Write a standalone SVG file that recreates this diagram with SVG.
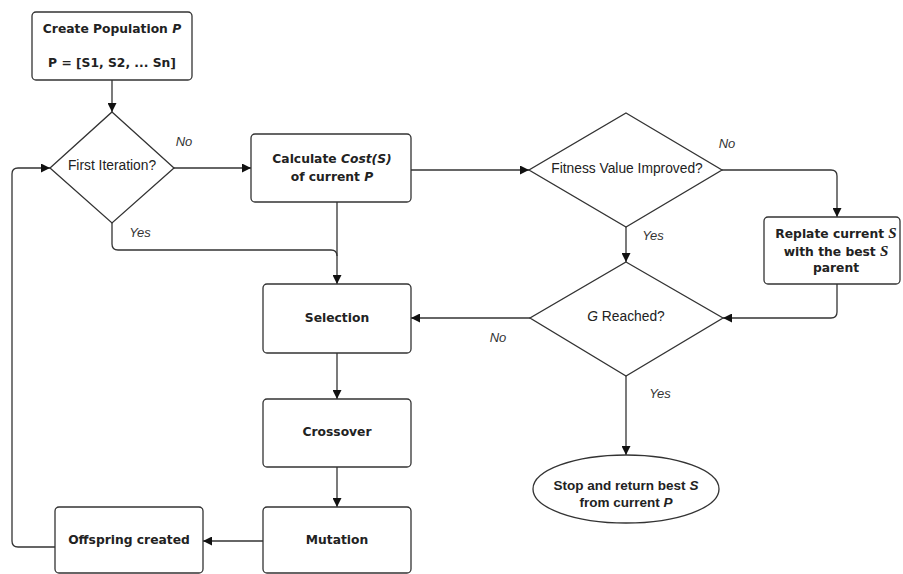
<svg xmlns="http://www.w3.org/2000/svg" width="903" height="574" viewBox="0 0 903 574">
<defs>
<style>
.box{fill:#fff;stroke:#333;stroke-width:1.3}
.ln{fill:none;stroke:#333;stroke-width:1.3}
.arr{marker-end:url(#ah)}
.bt{font-family:"DejaVu Sans",Verdana,sans-serif;font-weight:bold;font-size:12.3px;fill:#222;text-anchor:middle}
.dt{font-family:"Liberation Sans",Arial,sans-serif;font-size:13.8px;fill:#222;text-anchor:middle}
.lb{font-family:"Liberation Sans",Arial,sans-serif;font-style:italic;font-size:13px;fill:#333;text-anchor:middle}
.st{font-family:"Liberation Sans",Arial,sans-serif;font-weight:bold;font-size:13.5px;fill:#222;text-anchor:middle}
.it{font-style:italic}
.sf{font-family:"Liberation Serif","Times New Roman",serif;font-style:italic;font-size:15px}
</style>
<marker id="ah" viewBox="0 0 10 10" refX="10" refY="5" markerWidth="9" markerHeight="9" markerUnits="userSpaceOnUse" orient="auto">
<path d="M0,0 L10,5 L0,10 z" fill="#111"/>
</marker>
</defs>
<rect width="903" height="574" fill="#fff"/>
<g id="connectors">
<path class="ln arr" d="M112,80 V112"/>
<path class="ln arr" d="M174,168 H251"/>
<path class="ln arr" d="M411,170 H529"/>
<path class="ln arr" d="M722,170 H831 Q837,170 837,176 V217"/>
<path class="ln arr" d="M626,227 V262"/>
<path class="ln arr" d="M837,284 V312 Q837,318 831,318 H723"/>
<path class="ln arr" d="M530,318 H411"/>
<path class="ln arr" d="M626,376 V455"/>
<path class="ln arr" d="M337,202 V284"/>
<path class="ln" d="M112,223 V244 Q112,250 118,250 H331 Q337,250 337,256"/>
<path class="ln arr" d="M337,353 V399"/>
<path class="ln arr" d="M337,467 V507"/>
<path class="ln arr" d="M263,541 H203"/>
<path class="ln arr" d="M55,547 H18 Q12,547 12,541 V174 Q12,168 18,168 H50"/>
<text class="lb" x="184" y="146">No</text>
<text class="lb" x="140" y="237">Yes</text>
<text class="lb" x="727" y="148">No</text>
<text class="lb" x="653" y="240">Yes</text>
<text class="lb" x="498" y="342">No</text>
<text class="lb" x="660" y="398">Yes</text>
</g>
<g id="create">
<rect class="box" x="32" y="12" width="160" height="68" rx="4"/>
<text class="bt" x="112" y="32.5">Create Population <tspan class="it">P</tspan></text>
<text class="bt" x="112" y="66.5">P = [S1, S2, ... Sn]</text>
</g>
<g id="first">
<polygon class="box" points="112,112 174,168 112,223 50,168"/>
<text class="dt" x="112" y="170">First Iteration?</text>
</g>
<g id="calc">
<rect class="box" x="251" y="134" width="160" height="68" rx="4"/>
<text class="bt" x="332" y="162.5">Calculate <tspan class="it">Cost(S)</tspan></text>
<text class="bt" x="332" y="180.5">of current <tspan class="it">P</tspan></text>
</g>
<g id="fitness">
<polygon class="box" points="626,113 722,170 626,227 529,170"/>
<text class="dt" x="627" y="173">Fitness Value Improved?</text>
</g>
<g id="replate">
<rect class="box" x="764" y="217" width="136" height="67" rx="4"/>
<text class="bt" x="836" y="237.5">Replate current <tspan class="sf">S</tspan></text>
<text class="bt" x="836" y="255.5">with the best <tspan class="sf">S</tspan></text>
<text class="bt" x="836" y="271.5">parent</text>
</g>
<g id="greached">
<polygon class="box" points="626,262 723,318 626,376 530,318"/>
<text class="dt" x="626" y="321"><tspan class="it">G</tspan> Reached?</text>
</g>
<g id="stop">
<ellipse class="box" cx="626" cy="489" rx="93" ry="34"/>
<text class="st" x="626" y="490">Stop and return best <tspan class="it">S</tspan></text>
<text class="st" x="626" y="507">from current <tspan class="it">P</tspan></text>
</g>
<g id="selection">
<rect class="box" x="263" y="284" width="148" height="69" rx="4"/>
<text class="bt" x="337" y="321.5">Selection</text>
</g>
<g id="crossover">
<rect class="box" x="263" y="399" width="148" height="68" rx="4"/>
<text class="bt" x="337" y="435.5">Crossover</text>
</g>
<g id="mutation">
<rect class="box" x="263" y="507" width="148" height="66" rx="4"/>
<text class="bt" x="337" y="543.5">Mutation</text>
</g>
<g id="offspring">
<rect class="box" x="55" y="507" width="148" height="66" rx="4"/>
<text class="bt" x="129" y="543.5">Offspring created</text>
</g>
</svg>
